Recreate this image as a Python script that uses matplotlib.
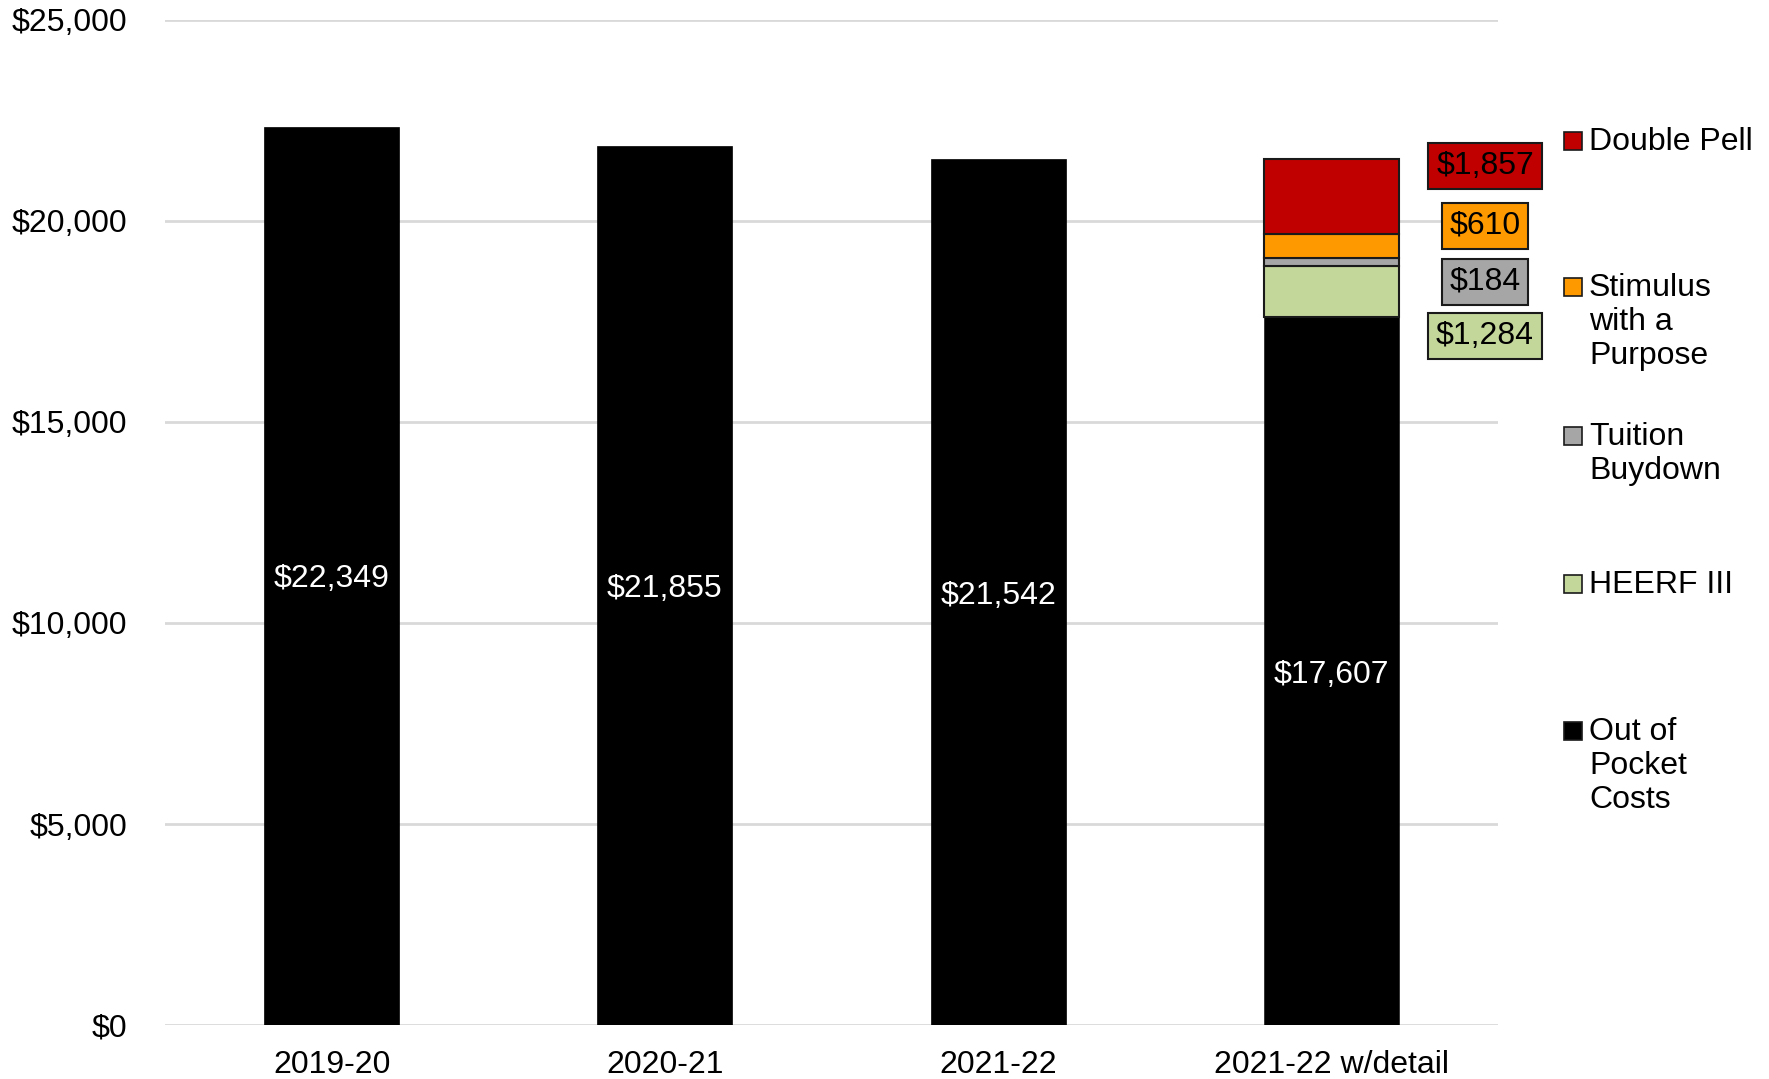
import matplotlib
matplotlib.use("Agg")
import matplotlib.pyplot as plt
from matplotlib.patches import Rectangle

plt.rcParams['font.family'] = ['Liberation Sans', 'DejaVu Sans']

# ---- data ----
categories = ["2019-20", "2020-21", "2021-22", "2021-22 w/detail"]
totals = [22349, 21855, 21542]
detail_names = ["Out of Pocket Costs", "HEERF III", "Tuition Buydown",
                "Stimulus with a Purpose", "Double Pell"]
detail_values = [17607, 1284, 184, 610, 1857]
legend_labels = ["Double Pell", "Stimulus\nwith a\nPurpose", "Tuition\nBuydown",
                 "HEERF III", "Out of\nPocket\nCosts"]
yticks = [0, 5000, 10000, 15000, 20000, 25000]

# ---- style ----
detail_colors = ["#000000", "#C4D79B", "#A6A6A6", "#FF9900", "#C00000"]
FS = 23
W, H = 1769, 1079

fig = plt.figure(figsize=(W / 100, H / 100), dpi=100)
ax = fig.add_axes([165 / W, 1 - 1025 / H, (1498 - 165) / W, (1025 - 20) / H])

bar_w = 0.405
x = list(range(len(categories)))

# plain total bars
ax.bar(x[:3], totals, width=bar_w, color="#000000", edgecolor="#000000", linewidth=0.5, zorder=3)
for xi, v in zip(x[:3], totals):
    ax.text(xi, v / 2, f"${v:,}", color="white", ha="center", va="center_baseline",
            fontsize=FS, zorder=4)

# stacked detail bar
bottom = 0
for i, (v, c) in enumerate(zip(detail_values, detail_colors)):
    ax.bar(x[3], v, bottom=bottom, width=bar_w, color=c, edgecolor="#1a1a1a",
           linewidth=1.5 if i > 0 else 0.5, zorder=3)
    bottom += v
ax.text(x[3], detail_values[0] / 2, f"${detail_values[0]:,}", color="white",
        ha="center", va="center_baseline", fontsize=FS, zorder=4)

# outside labels for detail segments (top to bottom)
label_y_px = [166, 226, 282, 336]
label_x_px = 1485
for (v, c), ypx in zip(list(zip(detail_values[1:], detail_colors[1:]))[::-1], label_y_px):
    fig.text(label_x_px / W, 1 - ypx / H, f"${v:,}", ha="center", va="center",
             fontsize=FS, color="black",
             bbox=dict(boxstyle="square,pad=0.24", facecolor=c, edgecolor="#1a1a1a", linewidth=1.5))

# axes styling
ax.set_xlim(-0.5, 3.5)
ax.set_ylim(0, 25000)
ax.set_yticks(yticks)
ax.set_yticklabels([f"${t:,}" for t in yticks], fontsize=FS)
ax.set_xticks(x)
ax.set_xticklabels(categories, fontsize=FS)
ax.tick_params(axis="y", length=0, pad=27)
ax.tick_params(axis="x", length=0, pad=18)
for s in ax.spines.values():
    s.set_visible(False)
ax.yaxis.grid(True, color="#D9D9D9", linewidth=2, zorder=0)
ax.set_axisbelow(True)

# manual legend
legend_colors = detail_colors[::-1]
legend_y_px = [141, 287, 436, 584, 731]
for lab, c, ypx in zip(legend_labels, legend_colors, legend_y_px):
    fig.patches.append(Rectangle((1564 / W, 1 - (ypx + 9) / H), 18 / W, 18 / H,
                                 transform=fig.transFigure, facecolor=c,
                                 edgecolor="#1a1a1a", linewidth=1.2))
    fig.text(1589 / W, 1 - (ypx - 14) / H, lab, ha="left", va="top",
             fontsize=FS, color="black", linespacing=1.18)

fig.savefig("out.png", dpi=100)
